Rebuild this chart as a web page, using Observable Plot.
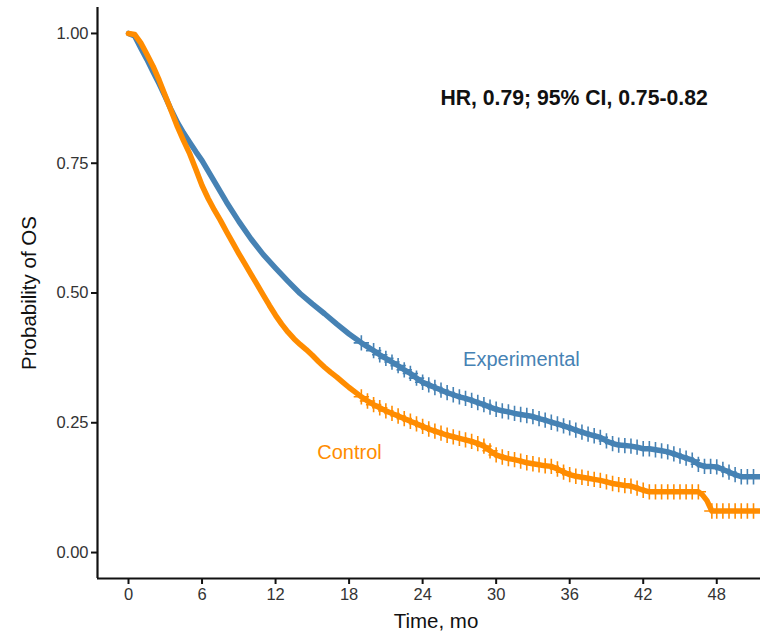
<!DOCTYPE html>
<html>
<head>
<meta charset="utf-8">
<script src="https://cdn.jsdelivr.net/npm/d3@7"></script>
<script src="https://cdn.jsdelivr.net/npm/@observablehq/plot@0.6"></script>
<style>
  html, body { margin: 0; padding: 0; background: #fff; }
  #chart svg { display: block; }
</style>
</head>
<body>
<div id="chart"></div>
<script>
const xTicks = [0, 6, 12, 18, 24, 30, 36, 42, 48];
const yTicks = [0, 0.25, 0.5, 0.75, 1];

const expTime = [0,0.5,1,1.5,2,2.5,3,3.5,4,4.5,5,5.5,6,7,8,9,10,11,12,13,14,15,16,17,18,19,20,
  20.5,21,21.5,22,22.5,23,23.5,24,24.5,25,25.5,26,26.5,27,27.5,28,28.5,29,29.5,30,30.5,31,31.5,32,
  32.5,33,33.5,34,34.5,35,35.5,36,36.5,37,37.5,38,38.5,39,39.5,40,40.5,41,41.5,42,42.5,43,43.5,44,
  44.5,45,45.5,46,46.5,47,47.5,48,48.5,49,49.5,50,50.5,51,51.6];
const expSurv = [1.000,0.995,0.972,0.950,0.926,0.903,0.878,0.852,0.828,0.808,0.790,0.772,0.755,0.715,0.675,0.638,0.604,0.574,0.548,0.523,0.499,0.479,0.460,0.440,0.421,0.404,0.389,
  0.381,0.374,0.367,0.360,0.352,0.345,0.336,0.328,0.323,0.318,0.313,0.308,0.304,0.300,0.297,0.293,0.289,0.285,0.280,0.276,0.273,0.271,0.268,0.266,
  0.264,0.262,0.258,0.255,0.251,0.248,0.244,0.240,0.236,0.232,0.228,0.225,0.222,0.215,0.210,0.207,0.206,0.205,0.203,0.200,0.200,0.198,0.196,0.194,
  0.190,0.186,0.182,0.178,0.170,0.166,0.166,0.165,0.160,0.155,0.150,0.146,0.146,0.146,0.146];

const ctlTime = [0,0.5,1,1.5,2,2.5,3,3.5,4,4.5,5,5.5,6,6.5,7,7.5,8,8.5,9,9.5,10,10.5,11,11.5,12,12.5,13,13.5,14,14.5,15,15.5,16,16.5,17,17.5,18,18.5,19,19.5,20,
  20.5,21,21.5,22,22.5,23,23.5,24,24.5,25,25.5,26,26.5,27,27.5,28,28.5,29,29.5,30,30.5,31,31.5,32,32.5,33,33.5,34,34.5,35,35.5,36,36.5,37,37.5,38,38.5,39,39.5,40,
  40.5,41,41.5,42,42.5,43,43.5,44,44.5,45,45.5,46,46.5,46.8,47.2,47.6,48,48.5,49,49.5,50,50.5,51,51.6];
const ctlSurv = [1.000,0.998,0.982,0.960,0.937,0.910,0.880,0.850,0.820,0.793,0.768,0.738,0.707,0.682,0.660,0.640,0.618,0.597,0.576,0.556,0.536,0.516,0.496,0.476,0.457,0.440,0.425,0.412,0.401,0.391,0.380,0.368,0.357,0.347,0.338,0.328,0.318,0.309,0.300,0.292,0.285,
  0.279,0.273,0.268,0.263,0.258,0.253,0.248,0.243,0.238,0.234,0.230,0.226,0.223,0.220,0.217,0.214,0.210,0.205,0.196,0.188,0.184,0.181,0.179,0.176,0.173,0.171,0.169,0.167,0.166,0.161,0.155,0.150,0.147,0.145,0.143,0.141,0.139,0.136,0.133,0.131,
  0.129,0.128,0.124,0.120,0.117,0.117,0.117,0.117,0.117,0.117,0.117,0.117,0.117,0.112,0.100,0.080,0.080,0.080,0.080,0.080,0.080,0.080,0.080,0.080];

const seriesNames = ["Experimental", "Control"];
const seriesColors = ["#4682B4", "#FF8C00"];

const expData = expTime.map((t, i) => ({t, s: expSurv[i], g: "Experimental"}));
const ctlData = ctlTime.map((t, i) => ({t, s: ctlSurv[i], g: "Control"}));
const allData = expData.concat(ctlData);
const censorData = allData.filter(d => d.t >= 19 && d.t !== 46.8 && d.t !== 47.2);

const labels = [
  {t: 27.3, s: 0.372, text: "Experimental", g: "Experimental"},
  {t: 15.4, s: 0.193, text: "Control", g: "Control"}
];

const xDomain = [-2.53, 51.57];
const yDomain = [-0.05, 1.05];

const chart = Plot.plot({
  width: 760,
  height: 639,
  marginLeft: 97,
  marginTop: 7,
  marginBottom: 61,
  marginRight: 0,
  style: {fontFamily: "'Liberation Sans', Arial, sans-serif", background: "#fff"},
  x: {domain: xDomain},
  y: {domain: yDomain},
  color: {domain: seriesNames, range: seriesColors},
  marks: [
    Plot.axisX({ticks: xTicks, tickSize: 6, tickPadding: 4, fontSize: 16.5, color: "#333", stroke: "#111", strokeWidth: 2, label: null}),
    Plot.axisY({ticks: yTicks, tickSize: 6, tickPadding: 3, fontSize: 16.5, color: "#333", stroke: "#111", strokeWidth: 2, tickFormat: d3.format(".2f"), label: null}),
    Plot.ruleX([xDomain[0]], {stroke: "#111", strokeWidth: 2.2}),
    Plot.ruleY([yDomain[0]], {stroke: "#111", strokeWidth: 2.2}),
    Plot.line(allData, {x: "t", y: "s", z: "g", stroke: "g", strokeWidth: 5.5, curve: "linear"}),
    Plot.dot(censorData, {x: "t", y: "s", stroke: "g", symbol: "plus", r: 5, strokeWidth: 1.6}),
    Plot.text(labels, {x: "t", y: "s", text: "text", fill: "g", textAnchor: "start", fontSize: 20}),
    Plot.text(["HR, 0.79; 95% CI, 0.75-0.82"], {x: 25.45, y: 0.876, textAnchor: "start", fontSize: 21.2, fontWeight: "bold", fill: "#111"}),
    Plot.text(["Probability of OS"], {frameAnchor: "left", textAnchor: "middle", dx: -68, rotate: -90, fontSize: 20.5, fill: "#111"}),
    Plot.text(["Time, mo"], {frameAnchor: "bottom", dy: 49, dx: 7, fontSize: 20.5, fill: "#111"})
  ]
});
document.getElementById("chart").appendChild(chart);
</script>
</body>
</html>
